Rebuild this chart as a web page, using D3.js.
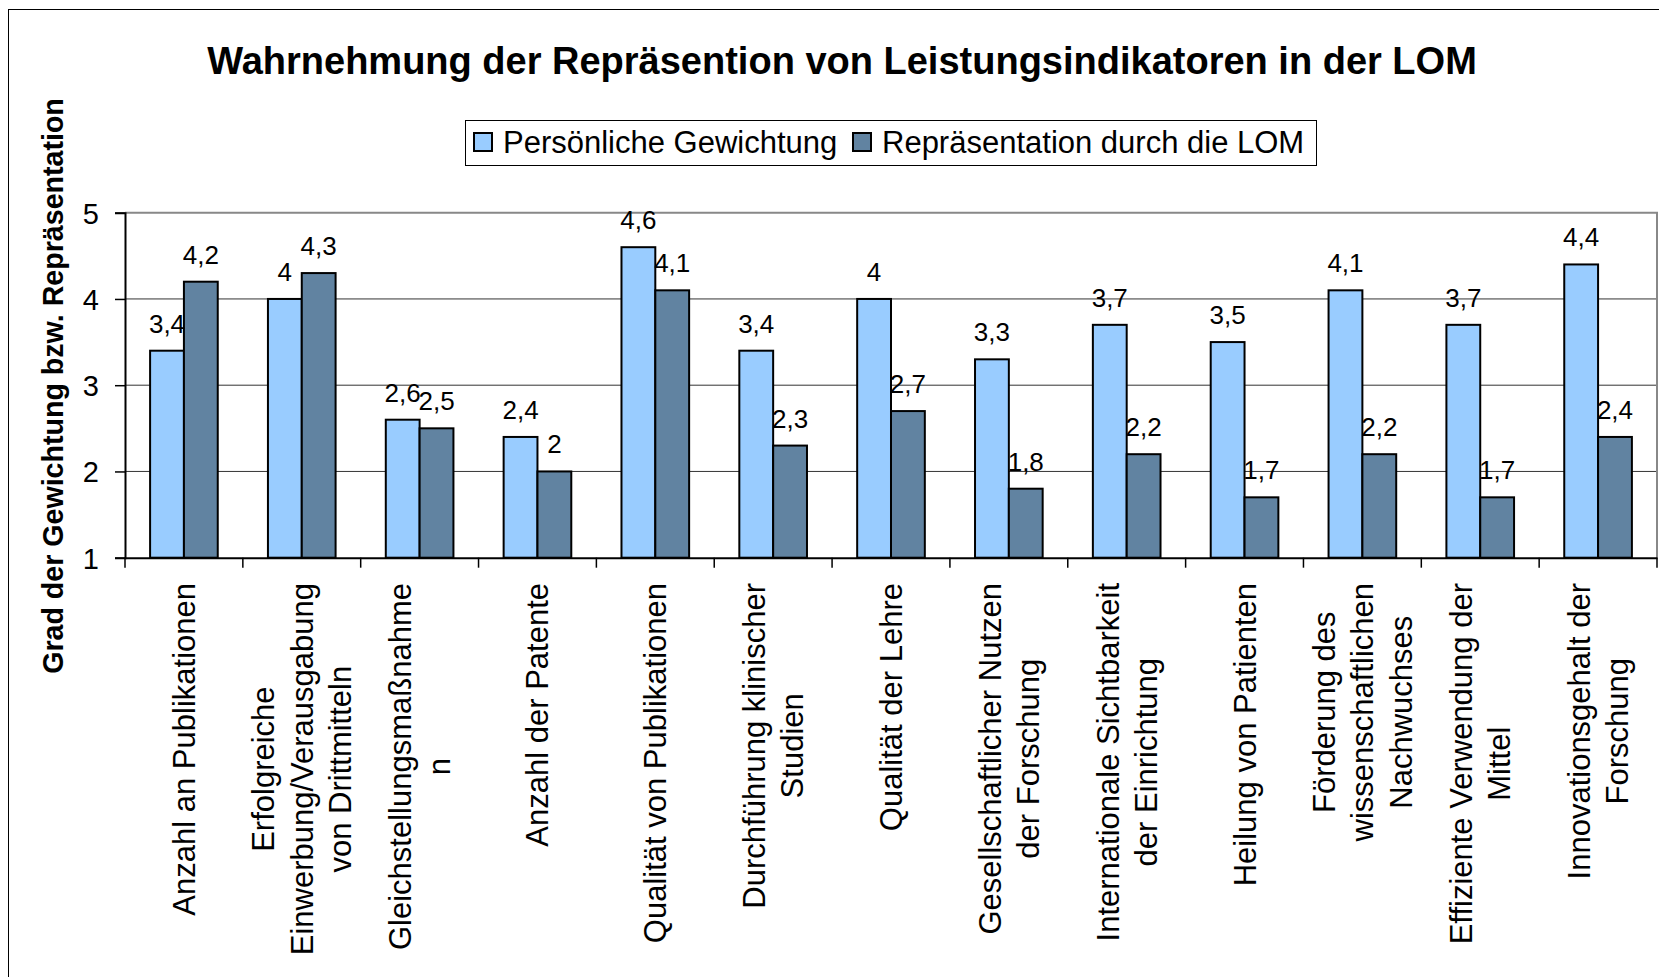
<!DOCTYPE html>
<html>
<head>
<meta charset="utf-8">
<script src="https://cdnjs.cloudflare.com/ajax/libs/d3/7.8.5/d3.min.js"></script>
<style>
  body { margin: 0; background: #fff; }
  svg { display: block; font-family: "Liberation Sans", Arial, sans-serif; }
</style>
</head>
<body>
<div id="chart"></div>
<script>
const categories = [
  ["Anzahl an Publikationen"],
  ["Erfolgreiche", "Einwerbung/Verausgabung", "von Drittmitteln"],
  ["Gleichstellungsmaßnahme", "n"],
  ["Anzahl der Patente"],
  ["Qualität von Publikationen"],
  ["Durchführung klinischer", "Studien"],
  ["Qualität der Lehre"],
  ["Gesellschaftlicher Nutzen", "der Forschung"],
  ["Internationale Sichtbarkeit", "der Einrichtung"],
  ["Heilung von Patienten"],
  ["Förderung des", "wissenschaftlichen", "Nachwuchses"],
  ["Effiziente Verwendung der", "Mittel"],
  ["Innovationsgehalt der", "Forschung"]
];
const seriesNames = ["Persönliche Gewichtung", "Repräsentation durch die LOM"];
const persoenlich = [3.4, 4, 2.6, 2.4, 4.6, 3.4, 4, 3.3, 3.7, 3.5, 4.1, 3.7, 4.4];
const lom = [4.2, 4.3, 2.5, 2, 4.1, 2.3, 2.7, 1.8, 2.2, 1.7, 2.2, 1.7, 2.4];
const yTicks = [1, 2, 3, 4, 5];
const colors = ["#99ccff", "#6183a1"];

const W = 1659, H = 977;
const plotL = 125, plotR = 1657, plotT = 212.7, plotB = 557.7;

const svg = d3.select("#chart").append("svg")
  .attr("width", W).attr("height", H);

// outer chart border
svg.append("rect")
  .attr("x", 8.5).attr("y", 9.5)
  .attr("width", 1700).attr("height", 1000)
  .attr("fill", "#fff").attr("stroke", "#000").attr("stroke-width", 1);

svg.append("text")
  .attr("x", 842).attr("y", 74)
  .attr("text-anchor", "middle")
  .style("font-size", "38px").style("font-weight", "bold")
  .text("Wahrnehmung der Repräsention von Leistungsindikatoren in der LOM");

const keys = categories.map((c, i) => i);
const x = d3.scaleBand().domain(keys).range([plotL, plotR]).padding(0);
const x1 = d3.scaleBand().domain([0, 1]).range([0, x.bandwidth()]).paddingOuter(0.742);
const y = d3.scaleLinear().domain([1, 5]).range([plotB, plotT]);

// gridlines
svg.append("g")
  .selectAll("line").data(yTicks.slice(1, -1)).enter().append("line")
  .attr("x1", plotL).attr("x2", plotR)
  .attr("y1", d => y(d)).attr("y2", d => y(d))
  .attr("stroke", "#333").attr("stroke-width", 1);

// plot border top/right
svg.append("path")
  .attr("d", `M${plotL},${plotT}H${plotR}V${plotB}`)
  .attr("fill", "none").attr("stroke", "#888").attr("stroke-width", 2);

const data = keys.map(i => ({ i, vals: [persoenlich[i], lom[i]] }));
const fmt = v => String(v).replace(".", ",");

const groups = svg.append("g").selectAll("g").data(data).enter().append("g")
  .attr("transform", d => `translate(${x(d.i)},0)`);

groups.selectAll("rect").data(d => d.vals.map((v, s) => ({ v, s }))).enter().append("rect")
  .attr("x", d => x1(d.s))
  .attr("width", x1.bandwidth())
  .attr("y", d => y(d.v))
  .attr("height", d => y(1) - y(d.v))
  .attr("fill", d => colors[d.s])
  .attr("stroke", "#000").attr("stroke-width", 2);

groups.selectAll("text.val").data(d => d.vals.map((v, s) => ({ v, s }))).enter().append("text")
  .attr("class", "val")
  .attr("x", d => x1(d.s) + x1.bandwidth() / 2)
  .attr("y", d => y(d.v) - 18)
  .attr("text-anchor", "middle")
  .style("font-size", "26px")
  .text(d => fmt(d.v));

// y axis
const yAxis = svg.append("g")
  .attr("transform", `translate(${plotL},0)`)
  .call(d3.axisLeft(y).tickValues(yTicks).tickSize(10).tickPadding(16).tickFormat(d3.format("d")));
yAxis.select(".domain").attr("stroke", "#000").attr("stroke-width", 2);
yAxis.selectAll(".tick line").attr("stroke", "#000").attr("stroke-width", 1.5);
yAxis.selectAll(".tick text")
  .style("font-size", "29px").attr("fill", "#000")
  .attr("dy", "0.36em");
yAxis.attr("font-family", null).attr("font-size", null);

// x axis
const xAxis = svg.append("g")
  .attr("transform", `translate(0,${plotB})`)
  .call(d3.axisBottom(x).tickSize(0).tickFormat(""));
xAxis.select(".domain").attr("stroke", "#000").attr("stroke-width", 2);
svg.append("g").selectAll("line").data(keys.concat([keys.length])).enter().append("line")
  .attr("x1", d => plotL + d * x.step()).attr("x2", d => plotL + d * x.step())
  .attr("y1", plotB).attr("y2", plotB + 10)
  .attr("stroke", "#000").attr("stroke-width", 1.5);

// category labels rotated
const lineH = 38.3, labelTop = 583;
categories.forEach((lines, i) => {
  const cx = x(i) + x.bandwidth() / 2;
  const g = svg.append("g");
  const texts = lines.map((ln, j) => g.append("text")
    .style("font-size", "31px")
    .attr("text-anchor", "middle")
    .text(ln));
  const maxLen = d3.max(texts, t => t.node().getComputedTextLength());
  const cy = labelTop + maxLen / 2;
  texts.forEach((t, j) => {
    const bx = cx + (j - (lines.length - 1) / 2) * lineH + 11;
    t.attr("transform", `translate(${bx},${cy}) rotate(-90)`);
  });
});

// y axis title
svg.append("text")
  .attr("transform", "translate(63,386) rotate(-90)")
  .attr("text-anchor", "middle")
  .style("font-size", "28.6px").style("font-weight", "bold")
  .text("Grad der Gewichtung bzw. Repräsentation");

// legend
const leg = svg.append("g");
leg.append("rect")
  .attr("x", 465.5).attr("y", 120.5).attr("width", 851).attr("height", 45)
  .attr("fill", "#fff").attr("stroke", "#000").attr("stroke-width", 1);
const legX = [474, 853];
seriesNames.forEach((name, s) => {
  leg.append("rect")
    .attr("x", legX[s]).attr("y", 133).attr("width", 18).attr("height", 18)
    .attr("fill", colors[s]).attr("stroke", "#000").attr("stroke-width", 2);
  leg.append("text")
    .attr("x", legX[s] + 29).attr("y", 153)
    .style("font-size", "31px")
    .text(name);
});
</script>
</body>
</html>
